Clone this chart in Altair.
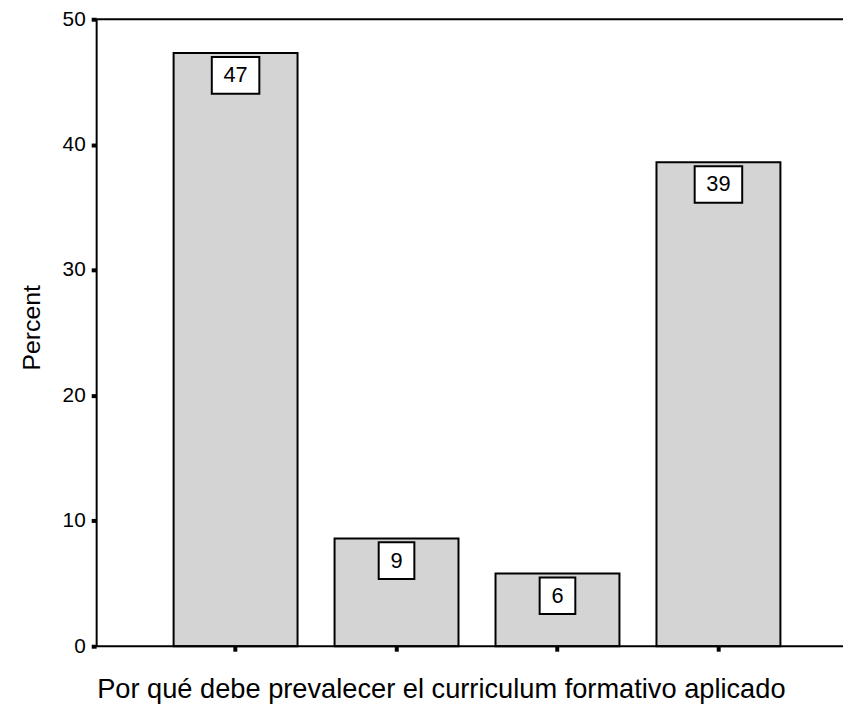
import altair as alt
import pandas as pd

categories = ["1", "2", "3", "4"]
percents = [47.3, 8.6, 5.8, 38.6]
labels = ["47", "9", "6", "39"]
frame_values = [0, 50]
y_ticks = [0, 10, 20, 30, 40, 50]

df = pd.DataFrame({"cat": categories, "pct": percents, "label": labels})
frame_df = pd.DataFrame({"pct": frame_values})

FONT = "Liberation Sans"

x_enc = alt.X(
    "cat:N",
    sort=None,
    scale=alt.Scale(range=[59.5, 709.5], paddingInner=0.23, paddingOuter=0.115),
    axis=alt.Axis(
        title="Por qué debe prevalecer el curriculum formativo aplicado",
        labels=False,
        domain=False,
        ticks=True,
        tickSize=5,
        tickWidth=4,
        tickColor="black",
        titleFontSize=27.5,
        titleFont=FONT,
        titleFontWeight="normal",
        titleColor="black",
        titleX=348,
        titleY=52,
        titleAlign="center",
        titleBaseline="alphabetic",
    ),
)

y_scale = alt.Scale(domain=[0, 50], nice=False)
y_axis = alt.Axis(
    values=y_ticks,
    title="Percent",
    grid=False,
    domainColor="black",
    domainWidth=2,
    tickSize=5,
    tickWidth=4,
    tickColor="black",
    labelFontSize=21,
    labelFont=FONT,
    labelColor="black",
    labelPadding=6,
    titleFontSize=25,
    titleFont=FONT,
    titleFontWeight="normal",
    titleColor="black",
    titleX=-65,
    titleY=311,
    titleAlign="center",
    titleBaseline="middle",
    titleAngle=270,
)

bars = alt.Chart(df).mark_bar(fill="#d4d4d4", stroke="black", strokeWidth=2).encode(
    x=x_enc,
    y=alt.Y("pct:Q", scale=y_scale, axis=y_axis),
)

boxes = (
    alt.Chart(df)
    .transform_calculate(bw="length(datum.label) * 12 + 24")
    .mark_bar(fill="white", stroke="black", strokeWidth=2, yOffset=4, y2Offset=41)
    .encode(
        x=alt.X("cat:N", sort=None),
        y=alt.Y("pct:Q", scale=y_scale, axis=y_axis),
        y2="pct:Q",
        size=alt.Size("bw:Q", scale=None, legend=None),
    )
)

texts = alt.Chart(df).mark_text(
    fontSize=22, font=FONT, color="black", baseline="middle", dy=22.5
).encode(
    x=alt.X("cat:N", sort=None),
    y=alt.Y("pct:Q", scale=y_scale, axis=y_axis),
    text="label:N",
)

frame = alt.Chart(frame_df).mark_rule(color="black", strokeWidth=2).encode(
    y=alt.Y("pct:Q", scale=y_scale, axis=y_axis)
)

chart = (
    alt.layer(bars, boxes, texts, frame)
    .properties(
        width=754,
        height=633,
        autosize=alt.AutoSizeParams(type="none"),
        padding={"left": 89, "top": 8, "right": 0, "bottom": 58},
        background="white",
    )
    .configure_view(stroke=None)
)

chart.save("out.html", embed_options={"renderer": "svg", "actions": False})
